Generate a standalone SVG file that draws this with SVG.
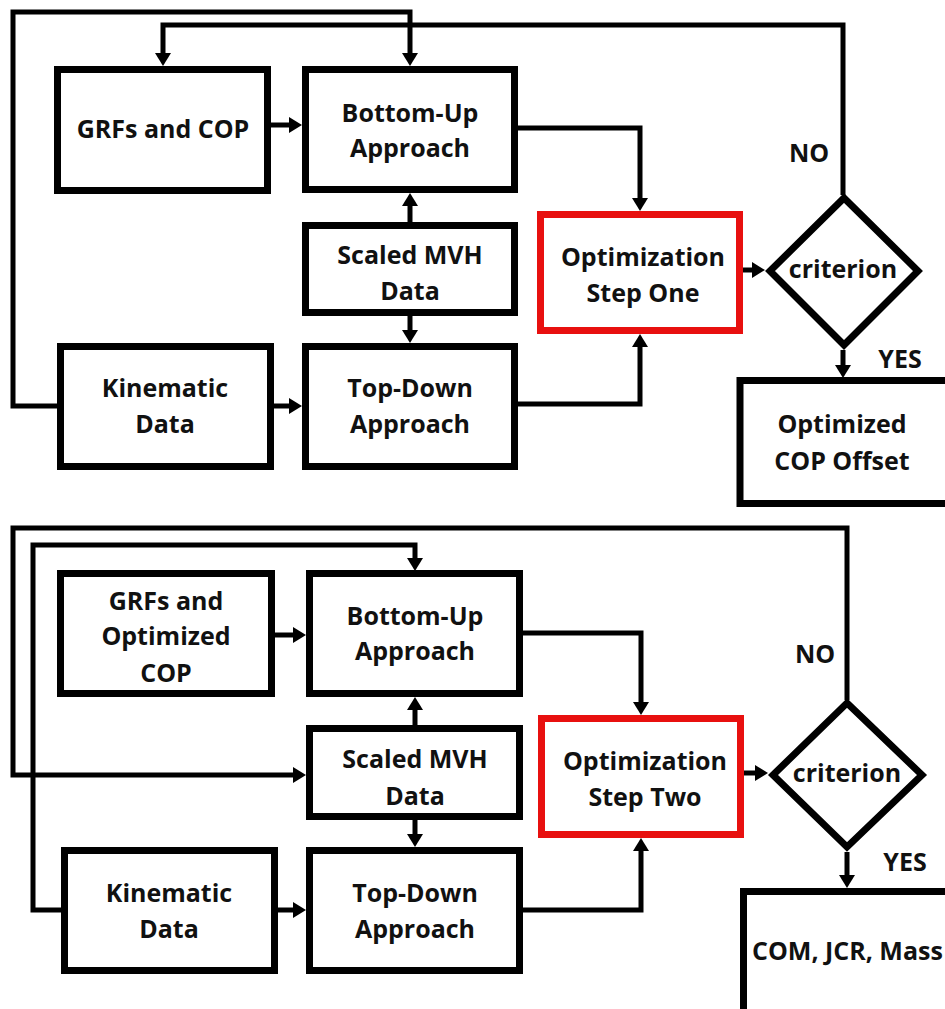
<svg xmlns="http://www.w3.org/2000/svg" width="945" height="1009" viewBox="0 0 945 1009">
<style>
.box{fill:#fff;stroke:#000;stroke-width:7}
.red{fill:#fff;stroke:#e8100f;stroke-width:7}
.dia{fill:#fff;stroke:#000;stroke-width:7;stroke-linejoin:miter}
.arr{fill:none;stroke:#000;stroke-width:5;marker-end:url(#ah)}
text{font-family:"Open Sans","Liberation Sans",sans-serif;font-weight:bold;font-size:25px;fill:#111;text-anchor:middle}
</style>
<defs>
<marker id="ah" viewBox="0 0 13 16" refX="3" refY="8" markerWidth="13" markerHeight="16" markerUnits="userSpaceOnUse" orient="auto">
<path d="M0,0 L13,8 L0,16 z" fill="#000"/>
</marker>
</defs>
<rect width="945" height="1009" fill="#fff"/>
<g id="connectors">
<path class="arr" d="M57,406 H13 V12 H410 V56"/>
<path class="arr" d="M843,195 V25 H163 V56"/>
<path class="arr" d="M271,125 H292"/>
<path class="arr" d="M410,222 V203"/>
<path class="arr" d="M410,316 V333"/>
<path class="arr" d="M274,406 H292"/>
<path class="arr" d="M518,128 H640 V201"/>
<path class="arr" d="M518,404 H640 V344"/>
<path class="arr" d="M743,270 H755"/>
<path class="arr" d="M843,350 V368"/>
<path class="arr" d="M847,700 V528 H13 V775 H296"/>
<path class="arr" d="M61,910 H33 V545 H415 V561"/>
<path class="arr" d="M275,635 H296"/>
<path class="arr" d="M415,725 V707"/>
<path class="arr" d="M415,820 V837"/>
<path class="arr" d="M278,910 H296"/>
<path class="arr" d="M523,633 H641 V705"/>
<path class="arr" d="M523,910 H641 V848"/>
<path class="arr" d="M744,773 H758"/>
<path class="arr" d="M847,852 V878"/>
</g>
<g id="grfs1"><rect class="box" x="57.5" y="69.5" width="210" height="121"/><text x="163" y="138">GRFs and COP</text></g>
<g id="bottomup1"><rect class="box" x="305.5" y="69.5" width="209" height="120"/><text x="410" y="122">Bottom-Up</text><text x="410" y="157">Approach</text></g>
<g id="mvh1"><rect class="box" x="305.5" y="225.5" width="209" height="87"/><text x="410" y="264">Scaled MVH</text><text x="410" y="300">Data</text></g>
<g id="kin1"><rect class="box" x="60.5" y="346.5" width="210" height="120"/><text x="165" y="397">Kinematic</text><text x="165" y="433">Data</text></g>
<g id="topdown1"><rect class="box" x="305.5" y="346.5" width="209" height="120"/><text x="410" y="397">Top-Down</text><text x="410" y="433">Approach</text></g>
<g id="opt1"><rect class="red" x="540.5" y="214.5" width="199" height="116"/><text x="643" y="266">Optimization</text><text x="643" y="302">Step One</text></g>
<g id="crit1"><polygon class="dia" points="844,198 918,271 844,345 770,271"/><text x="843" y="278">criterion</text></g>
<g id="result1"><rect class="box" x="740" y="380.5" width="230" height="123"/><text x="842" y="433">Optimized</text><text x="842" y="470">COP Offset</text></g>
<g id="no1"><text x="809" y="162">NO</text></g>
<g id="yes1"><text x="900" y="368">YES</text></g>
<g id="grfs2"><rect class="box" x="60.5" y="573.5" width="211" height="120"/><text x="166" y="610">GRFs and</text><text x="166" y="645">Optimized</text><text x="166" y="682">COP</text></g>
<g id="bottomup2"><rect class="box" x="309.5" y="573.5" width="210" height="120"/><text x="415" y="625">Bottom-Up</text><text x="415" y="660">Approach</text></g>
<g id="mvh2"><rect class="box" x="309.5" y="728.5" width="210" height="88"/><text x="415" y="768">Scaled MVH</text><text x="415" y="805">Data</text></g>
<g id="kin2"><rect class="box" x="64.5" y="850.5" width="210" height="120"/><text x="169" y="902">Kinematic</text><text x="169" y="938">Data</text></g>
<g id="topdown2"><rect class="box" x="309.5" y="850.5" width="210" height="120"/><text x="415" y="902">Top-Down</text><text x="415" y="938">Approach</text></g>
<g id="opt2"><rect class="red" x="541.5" y="718.5" width="199" height="116"/><text x="645" y="770">Optimization</text><text x="645" y="806">Step Two</text></g>
<g id="crit2"><polygon class="dia" points="847,703 922,775 847,847 773,775"/><text x="847" y="782">criterion</text></g>
<g id="result2"><rect class="box" x="743.5" y="891.5" width="230" height="130"/><text x="752" y="960" style="text-anchor:start">COM, JCR, Mass</text></g>
<g id="no2"><text x="815" y="663">NO</text></g>
<g id="yes2"><text x="905" y="871">YES</text></g>
</svg>
